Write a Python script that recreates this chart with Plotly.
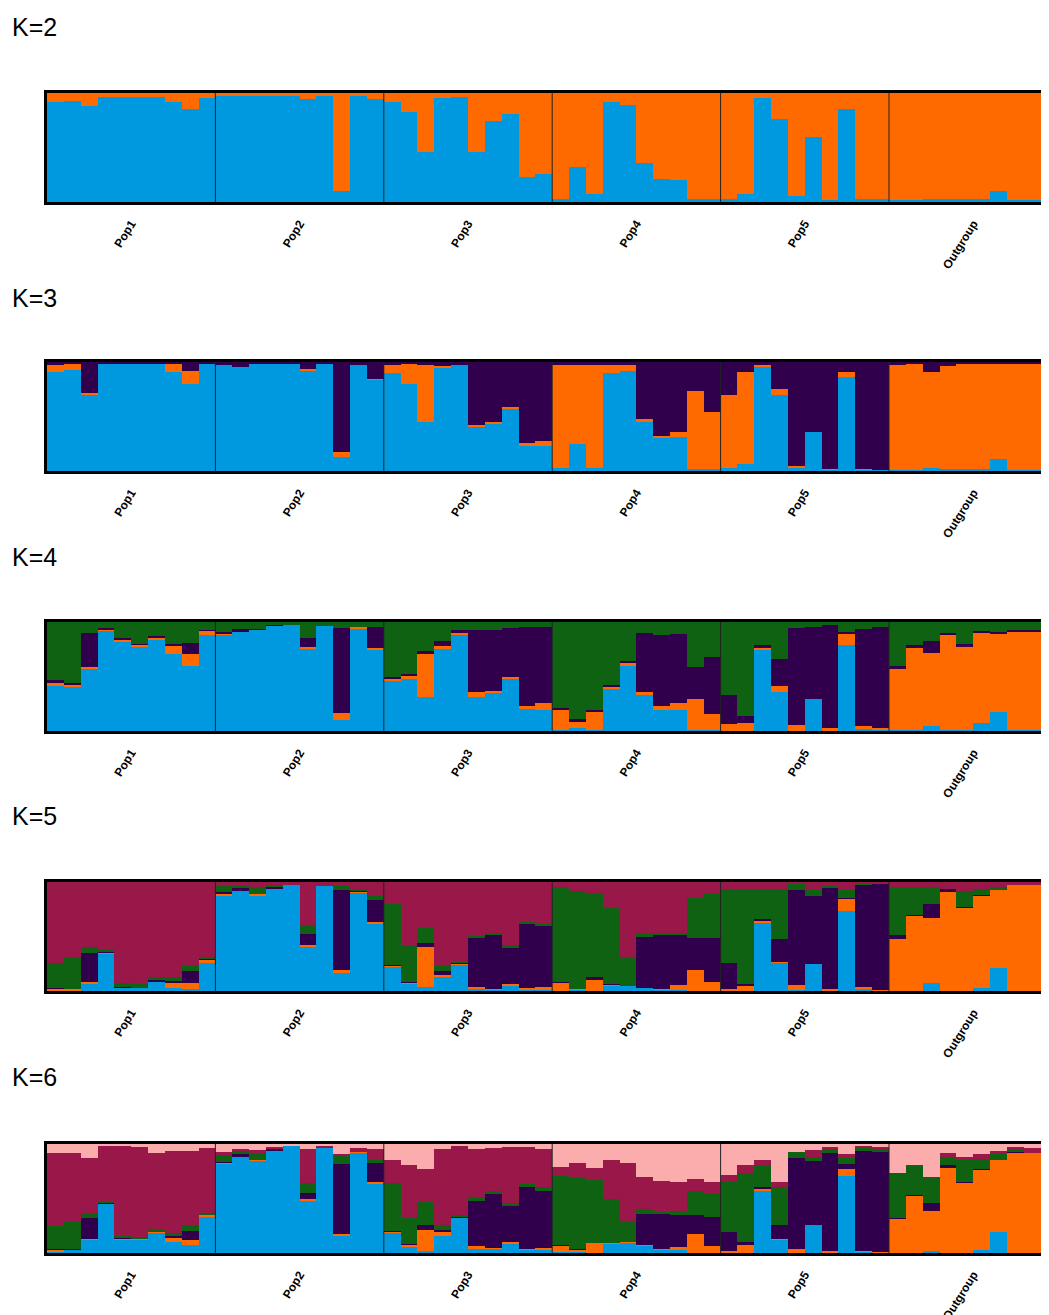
import plotly.graph_objects as go

# ---------------- data ----------------
pops = ["Pop1", "Pop2", "Pop3", "Pop4", "Pop5", "Outgroup"]
n_per_pop = 10
k_labels = ["K=2", "K=3", "K=4", "K=5", "K=6"]

cluster_colors = {
    "blue": "#0099DF",
    "orange": "#FF6A00",
    "purple": "#30004C",
    "green": "#0E6212",
    "crimson": "#9A1849",
    "pink": "#FBACAC",
}

# K=2
K2_blue = [0.92, 0.93, 0.88, 0.96, 0.96, 0.96, 0.96, 0.92, 0.85, 0.95,
           0.975, 0.975, 0.975, 0.975, 0.975, 0.945, 0.97, 0.10, 0.97, 0.945,
           0.92, 0.83, 0.46, 0.95, 0.96, 0.46, 0.745, 0.81, 0.23, 0.26,
           0.03, 0.32, 0.07, 0.92, 0.89, 0.36, 0.215, 0.20, 0.03, 0.03,
           0.03, 0.07, 0.95, 0.76, 0.055, 0.60, 0.015, 0.855, 0.03, 0.025,
           0.015, 0.015, 0.03, 0.025, 0.025, 0.03, 0.10, 0.015, 0.015, 0.045]
K2_orange = [0.08, 0.07, 0.12, 0.04, 0.04, 0.04, 0.04, 0.08, 0.15, 0.05,
             0.025, 0.025, 0.025, 0.025, 0.025, 0.055, 0.03, 0.90, 0.03, 0.055,
             0.08, 0.17, 0.54, 0.05, 0.04, 0.54, 0.255, 0.19, 0.77, 0.74,
             0.97, 0.68, 0.93, 0.08, 0.11, 0.64, 0.785, 0.80, 0.97, 0.97,
             0.97, 0.93, 0.05, 0.24, 0.945, 0.40, 0.985, 0.145, 0.97, 0.975,
             0.985, 0.985, 0.97, 0.975, 0.975, 0.97, 0.90, 0.985, 0.985, 0.955]

# K=3
K3_blue = [0.91, 0.93, 0.70, 0.98, 0.98, 0.98, 0.98, 0.91, 0.80, 0.98,
           0.97, 0.95, 0.98, 0.98, 0.98, 0.92, 0.98, 0.125, 0.97, 0.835,
           0.90, 0.80, 0.45, 0.95, 0.975, 0.40, 0.435, 0.57, 0.23, 0.225,
           0.03, 0.25, 0.03, 0.90, 0.915, 0.45, 0.31, 0.31, 0.015, 0.015,
           0.03, 0.06, 0.95, 0.70, 0.03, 0.36, 0.01, 0.86, 0.01, 0.01,
           0.01, 0.01, 0.025, 0.015, 0.015, 0.02, 0.11, 0.01, 0.01, 0.03]
K3_orange = [0.06, 0.05, 0.015, 0.0, 0.0, 0.0, 0.0, 0.07, 0.12, 0.0,
             0.0, 0.0, 0.0, 0.0, 0.0, 0.015, 0.0, 0.05, 0.0, 0.01,
             0.075, 0.18, 0.52, 0.01, 0.0, 0.02, 0.015, 0.015, 0.025, 0.05,
             0.945, 0.725, 0.945, 0.075, 0.06, 0.025, 0.015, 0.045, 0.72, 0.53,
             0.665, 0.845, 0.02, 0.055, 0.02, 0.0, 0.005, 0.05, 0.01, 0.0,
             0.96, 0.97, 0.88, 0.945, 0.965, 0.96, 0.87, 0.97, 0.97, 0.95]
K3_purple = [0.03, 0.02, 0.285, 0.02, 0.02, 0.02, 0.02, 0.02, 0.08, 0.02,
             0.03, 0.05, 0.02, 0.02, 0.02, 0.065, 0.02, 0.825, 0.03, 0.155,
             0.025, 0.02, 0.03, 0.04, 0.025, 0.58, 0.55, 0.415, 0.745, 0.725,
             0.025, 0.025, 0.025, 0.025, 0.025, 0.525, 0.675, 0.645, 0.265, 0.455,
             0.305, 0.095, 0.03, 0.245, 0.95, 0.64, 0.985, 0.09, 0.98, 0.99,
             0.03, 0.02, 0.095, 0.04, 0.02, 0.02, 0.02, 0.02, 0.02, 0.02]

# K=4
K4_blue = [0.41, 0.40, 0.57, 0.92, 0.82, 0.78, 0.84, 0.71, 0.60, 0.88,
           0.887, 0.91, 0.93, 0.965, 0.97, 0.755, 0.96, 0.10, 0.94, 0.74,
           0.455, 0.48, 0.315, 0.755, 0.887, 0.315, 0.345, 0.48, 0.205, 0.195,
           0.01, 0.025, 0.01, 0.39, 0.60, 0.33, 0.19, 0.19, 0.01, 0.005,
           0.0, 0.0, 0.74, 0.36, 0.0, 0.29, 0.0, 0.785, 0.015, 0.005,
           0.005, 0.005, 0.045, 0.01, 0.005, 0.07, 0.17, 0.005, 0.005, 0.03]
K4_orange = [0.03, 0.03, 0.015, 0.015, 0.015, 0.013, 0.013, 0.07, 0.11, 0.04,
             0.01, 0.0, 0.0, 0.0, 0.0, 0.015, 0.0, 0.063, 0.015, 0.02,
             0.03, 0.03, 0.39, 0.025, 0.01, 0.04, 0.025, 0.02, 0.02, 0.065,
             0.18, 0.053, 0.16, 0.015, 0.025, 0.03, 0.04, 0.07, 0.28, 0.15,
             0.06, 0.07, 0.03, 0.055, 0.057, 0.0, 0.03, 0.11, 0.03, 0.02,
             0.565, 0.755, 0.67, 0.87, 0.77, 0.83, 0.72, 0.90, 0.90, 0.88]
K4_purple = [0.03, 0.01, 0.31, 0.01, 0.015, 0.01, 0.02, 0.02, 0.095, 0.01,
             0.015, 0.025, 0.01, 0.005, 0.0, 0.085, 0.0, 0.78, 0.0, 0.19,
             0.015, 0.01, 0.03, 0.045, 0.03, 0.575, 0.555, 0.445, 0.725, 0.69,
             0.025, 0.03, 0.02, 0.015, 0.015, 0.535, 0.655, 0.63, 0.30, 0.52,
             0.27, 0.07, 0.015, 0.245, 0.885, 0.66, 0.94, 0.015, 0.89, 0.93,
             0.025, 0.025, 0.115, 0.02, 0.02, 0.015, 0.015, 0.02, 0.02, 0.01]
K4_green = [0.53, 0.56, 0.105, 0.055, 0.15, 0.20, 0.127, 0.20, 0.195, 0.07,
            0.088, 0.065, 0.06, 0.03, 0.03, 0.145, 0.04, 0.057, 0.045, 0.05,
            0.50, 0.48, 0.265, 0.175, 0.073, 0.07, 0.075, 0.055, 0.05, 0.05,
            0.785, 0.89, 0.81, 0.58, 0.36, 0.105, 0.115, 0.11, 0.41, 0.325,
            0.67, 0.86, 0.215, 0.34, 0.058, 0.05, 0.03, 0.09, 0.065, 0.045,
            0.405, 0.215, 0.17, 0.10, 0.205, 0.085, 0.095, 0.075, 0.075, 0.08]

# K=5
K5_blue = [0.0, 0.0, 0.07, 0.345, 0.03, 0.025, 0.08, 0.025, 0.015, 0.26,
           0.88, 0.92, 0.88, 0.94, 0.97, 0.41, 0.96, 0.165, 0.905, 0.615,
           0.225, 0.065, 0.04, 0.125, 0.245, 0.015, 0.015, 0.055, 0.015, 0.005,
           0.0, 0.015, 0.0, 0.055, 0.045, 0.03, 0.01, 0.01, 0.0, 0.0,
           0.005, 0.0, 0.63, 0.26, 0.005, 0.245, 0.0, 0.73, 0.015, 0.0,
           0.0, 0.0, 0.07, 0.0, 0.0, 0.025, 0.215, 0.0, 0.0, 0.02]
K5_orange = [0.025, 0.015, 0.01, 0.005, 0.005, 0.0, 0.0, 0.055, 0.06, 0.025,
             0.015, 0.0, 0.01, 0.0, 0.0, 0.015, 0.0, 0.025, 0.01, 0.02,
             0.01, 0.015, 0.365, 0.025, 0.01, 0.02, 0.005, 0.01, 0.01, 0.03,
             0.08, 0.005, 0.11, 0.005, 0.0, 0.0, 0.01, 0.045, 0.19, 0.08,
             0.01, 0.055, 0.015, 0.005, 0.05, 0.0, 0.015, 0.12, 0.02, 0.01,
             0.48, 0.70, 0.60, 0.905, 0.77, 0.85, 0.71, 0.97, 0.97, 0.94]
K5_purple = [0.005, 0.0, 0.27, 0.005, 0.005, 0.0, 0.02, 0.015, 0.11, 0.015,
             0.015, 0.025, 0.0, 0.01, 0.0, 0.095, 0.0, 0.74, 0.005, 0.2,
             0.005, 0.005, 0.035, 0.03, 0.005, 0.45, 0.49, 0.33, 0.59, 0.56,
             0.005, 0.0, 0.015, 0.005, 0.0, 0.47, 0.50, 0.46, 0.30, 0.41,
             0.24, 0.005, 0.015, 0.21, 0.87, 0.63, 0.935, 0.005, 0.94, 0.97,
             0.03, 0.005, 0.125, 0.03, 0.005, 0.005, 0.0, 0.0, 0.0, 0.0]
K5_green = [0.23, 0.30, 0.055, 0.02, 0.03, 0.035, 0.025, 0.03, 0.04, 0.015,
            0.05, 0.015, 0.06, 0.02, 0.0, 0.085, 0.0, 0.03, 0.015, 0.04,
            0.555, 0.34, 0.14, 0.045, 0.01, 0.02, 0.02, 0.03, 0.02, 0.02,
            0.87, 0.90, 0.77, 0.70, 0.27, 0.03, 0.015, 0.015, 0.36, 0.40,
            0.685, 0.875, 0.275, 0.465, 0.055, 0.055, 0.01, 0.07, 0.005, 0.0,
            0.44, 0.25, 0.155, 0.0, 0.14, 0.055, 0.03, 0.0, 0.0, 0.0]
K5_crimson = [0.74, 0.685, 0.595, 0.625, 0.93, 0.94, 0.875, 0.875, 0.775, 0.685,
              0.04, 0.04, 0.05, 0.03, 0.03, 0.395, 0.04, 0.04, 0.065, 0.125,
              0.205, 0.575, 0.42, 0.775, 0.73, 0.495, 0.47, 0.575, 0.365, 0.385,
              0.045, 0.08, 0.105, 0.235, 0.685, 0.47, 0.465, 0.47, 0.15, 0.11,
              0.06, 0.065, 0.065, 0.06, 0.02, 0.07, 0.04, 0.075, 0.02, 0.02,
              0.05, 0.05, 0.05, 0.065, 0.085, 0.065, 0.045, 0.03, 0.03, 0.04]

# K=6
K6_blue = [0.015, 0.03, 0.125, 0.45, 0.125, 0.12, 0.185, 0.10, 0.07, 0.335,
           0.82, 0.885, 0.85, 0.935, 0.985, 0.485, 0.97, 0.16, 0.925, 0.64,
           0.19, 0.06, 0.015, 0.16, 0.325, 0.04, 0.04, 0.09, 0.03, 0.03,
           0.005, 0.005, 0.0, 0.09, 0.10, 0.065, 0.03, 0.03, 0.0, 0.0,
           0.0, 0.0, 0.57, 0.12, 0.0, 0.255, 0.0, 0.705, 0.01, 0.0,
           0.0, 0.0, 0.015, 0.0, 0.0, 0.03, 0.19, 0.0, 0.0, 0.02]
K6_orange = [0.015, 0.005, 0.005, 0.005, 0.005, 0.005, 0.01, 0.04, 0.05, 0.015,
             0.01, 0.0, 0.005, 0.0, 0.0, 0.01, 0.0, 0.015, 0.005, 0.01,
             0.01, 0.015, 0.20, 0.03, 0.005, 0.025, 0.01, 0.01, 0.01, 0.015,
             0.06, 0.03, 0.09, 0.005, 0.005, 0.01, 0.01, 0.025, 0.175, 0.06,
             0.015, 0.07, 0.025, 0.005, 0.04, 0.0, 0.015, 0.065, 0.01, 0.01,
             0.32, 0.525, 0.37, 0.78, 0.65, 0.735, 0.66, 0.925, 0.92, 0.90]
K6_purple = [0.005, 0.005, 0.19, 0.005, 0.015, 0.0, 0.005, 0.015, 0.085, 0.005,
             0.005, 0.02, 0.0, 0.02, 0.0, 0.055, 0.0, 0.645, 0.0, 0.18,
             0.005, 0.005, 0.04, 0.02, 0.005, 0.41, 0.49, 0.33, 0.57, 0.52,
             0.005, 0.005, 0.0, 0.0, 0.0, 0.285, 0.32, 0.29, 0.175, 0.27,
             0.175, 0.03, 0.015, 0.135, 0.835, 0.585, 0.90, 0.05, 0.91, 0.92,
             0.005, 0.005, 0.075, 0.03, 0.005, 0.005, 0.0, 0.005, 0.0, 0.0]
K6_green = [0.21, 0.24, 0.05, 0.005, 0.015, 0.025, 0.01, 0.025, 0.055, 0.01,
            0.065, 0.03, 0.06, 0.0, 0.0, 0.095, 0.01, 0.075, 0.0, 0.02,
            0.435, 0.245, 0.215, 0.05, 0.01, 0.04, 0.025, 0.03, 0.025, 0.045,
            0.635, 0.66, 0.58, 0.40, 0.185, 0.04, 0.02, 0.04, 0.22, 0.22,
            0.475, 0.63, 0.185, 0.345, 0.055, 0.04, 0.045, 0.055, 0.02, 0.02,
            0.405, 0.275, 0.24, 0.075, 0.20, 0.09, 0.055, 0.02, 0.0, 0.02]
K6_crimson = [0.67, 0.635, 0.50, 0.515, 0.82, 0.825, 0.705, 0.755, 0.675, 0.60,
              0.03, 0.02, 0.03, 0.02, 0.0, 0.305, 0.01, 0.01, 0.03, 0.10,
              0.215, 0.485, 0.30, 0.69, 0.64, 0.44, 0.40, 0.51, 0.335, 0.34,
              0.08, 0.13, 0.11, 0.36, 0.535, 0.30, 0.28, 0.27, 0.11, 0.105,
              0.05, 0.08, 0.055, 0.045, 0.0, 0.065, 0.015, 0.03, 0.02, 0.02,
              0.0, 0.005, 0.0, 0.03, 0.03, 0.05, 0.03, 0.02, 0.04, 0.02]
K6_pink = [0.085, 0.085, 0.13, 0.02, 0.02, 0.025, 0.085, 0.065, 0.065, 0.035,
           0.07, 0.045, 0.055, 0.025, 0.015, 0.05, 0.01, 0.095, 0.04, 0.05,
           0.145, 0.19, 0.23, 0.05, 0.015, 0.045, 0.035, 0.03, 0.03, 0.05,
           0.215, 0.17, 0.22, 0.145, 0.175, 0.30, 0.34, 0.345, 0.32, 0.345,
           0.285, 0.19, 0.15, 0.35, 0.07, 0.055, 0.025, 0.095, 0.02, 0.03,
           0.27, 0.19, 0.30, 0.085, 0.115, 0.09, 0.065, 0.03, 0.04, 0.04]

panels = [
    [("blue", K2_blue), ("orange", K2_orange)],
    [("blue", K3_blue), ("orange", K3_orange), ("purple", K3_purple)],
    [("blue", K4_blue), ("orange", K4_orange), ("purple", K4_purple), ("green", K4_green)],
    [("blue", K5_blue), ("orange", K5_orange), ("purple", K5_purple), ("green", K5_green),
     ("crimson", K5_crimson)],
    [("blue", K6_blue), ("orange", K6_orange), ("purple", K6_purple), ("green", K6_green),
     ("crimson", K6_crimson), ("pink", K6_pink)],
]

# ---------------- layout geometry ----------------
# the page body adds an 8 px margin, so figure coordinates = page coordinates - 8
OFF = 8
W, H = 1049 - OFF, 1315 - OFF
panel_tops = [p - OFF for p in (93, 362, 622, 882, 1144)]
panel_h = 109
title_y = [p - OFF for p in (27, 298, 557, 816, 1077)]
left_px = 47 - OFF
ind_px = 16.84  # width of one individual in pixels

n_ind = n_per_pop * len(pops)
xs = list(range(n_ind))
centers = [i * n_per_pop + (n_per_pop - 1) / 2 for i in range(len(pops))]
bounds = [i * n_per_pop - 0.5 for i in range(1, len(pops))]
x_end = -0.5 + (W - left_px) / ind_px

fig = go.Figure()
layout = dict(
    width=W, height=H, autosize=False,
    margin=dict(l=0, r=0, t=0, b=0, pad=0),
    paper_bgcolor="white", plot_bgcolor="white",
    barmode="stack", barnorm="fraction", bargap=0,
    showlegend=False,
    font=dict(family="Liberation Sans, Arial, sans-serif", color="black"),
)
annotations = []
shapes = []

for i, comps in enumerate(panels):
    ax = "" if i == 0 else str(i + 1)
    for name, vals in comps:
        fig.add_trace(go.Bar(
            x=xs, y=vals, width=1,
            marker=dict(color=cluster_colors[name], line=dict(width=0)),
            xaxis="x" + ax, yaxis="y" + ax, hoverinfo="skip", name=name,
        ))
    top = panel_tops[i]
    layout["xaxis" + ax] = dict(
        domain=[left_px / W, 1.0], range=[-0.5, x_end], anchor="y" + ax,
        automargin=False,
        tickmode="array", tickvals=centers, ticktext=pops, tickangle=-58,
        tickfont=dict(size=12, family="Liberation Sans, Arial, sans-serif", weight="bold"),
        ticks="outside", ticklen=7, tickcolor="rgba(0,0,0,0)",
        showline=True, mirror=True, linewidth=3, linecolor="black",
        showgrid=False, zeroline=False,
    )
    layout["yaxis" + ax] = dict(
        domain=[1 - (top + panel_h) / H, 1 - top / H], range=[0, 1], anchor="x" + ax,
        automargin=False,
        showline=True, linewidth=3, linecolor="black",
        showticklabels=False, ticks="", showgrid=False, zeroline=False,
    )
    for b in bounds:
        shapes.append(dict(type="line", xref="x" + ax, yref="y" + ax + " domain",
                           x0=b, x1=b, y0=0, y1=1,
                           line=dict(color="#222222", width=1), layer="above"))
    annotations.append(dict(
        text=k_labels[i], xref="paper", yref="paper",
        x=(10 - OFF) / W, y=1 - title_y[i] / H, xanchor="left", yanchor="middle",
        showarrow=False, font=dict(size=25, color="black",
                                   family="Liberation Sans, Arial, sans-serif"),
    ))

layout["annotations"] = annotations
layout["shapes"] = shapes
fig.update_layout(**layout)
fig.write_html("out.html")
